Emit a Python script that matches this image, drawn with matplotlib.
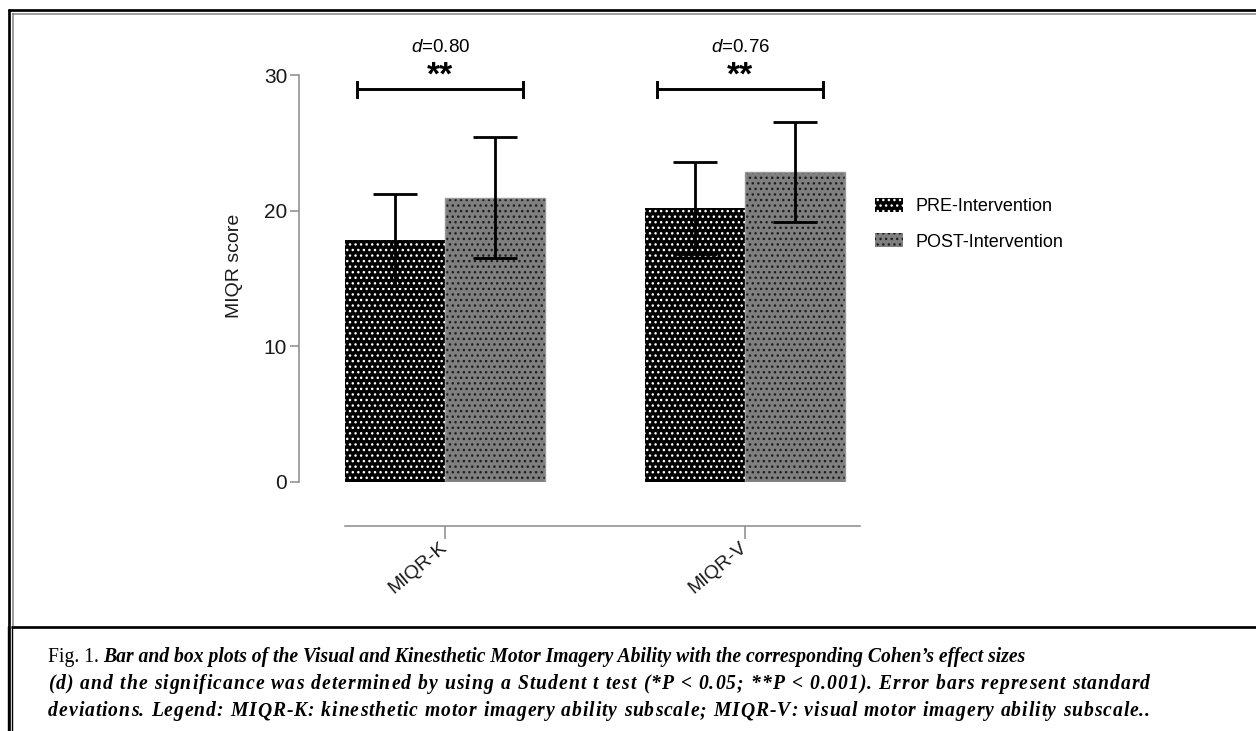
import matplotlib
matplotlib.use("Agg")
import matplotlib.pyplot as plt
from matplotlib.lines import Line2D
from matplotlib.font_manager import FontProperties, findfont
from matplotlib.ft2font import FT2Font
import numpy as np

# ---- data ----
categories = ["MIQR-K", "MIQR-V"]
series_names = ["PRE-Intervention", "POST-Intervention"]
pre_means = [17.8, 20.2]
pre_sd = [3.4, 3.4]
post_means = [20.95, 22.85]
post_sd = [4.45, 3.7]
effect_sizes = ["0.80", "0.76"]
sig_marks = ["**", "**"]
y_ticks = [0, 10, 20, 30]

caption_head = "Fig. 1."
caption_lines = [
    "Bar and box plots of the Visual and Kinesthetic Motor Imagery Ability with the corresponding Cohen\u2019s effect sizes",
    "(d) and the significance was determined by using a Student t test (*P < 0.05; **P < 0.001). Error bars represent standard",
    "deviations. Legend: MIQR-K: kinesthetic motor imagery ability subscale; MIQR-V: visual motor imagery ability subscale..",
]

plt.rcParams["font.family"] = ["Liberation Sans", "DejaVu Sans"]
plt.rcParams["mathtext.fontset"] = "custom"
plt.rcParams["mathtext.rm"] = "Liberation Sans"
plt.rcParams["mathtext.it"] = "Liberation Sans:italic"
plt.rcParams["hatch.linewidth"] = 1.0

W, H = 1256, 731
fig = plt.figure(figsize=(W / 100, H / 100), dpi=100)


def fx(x):
    return x / W


def fy(y):
    return 1 - y / H


# axes: y=0 at px 481.5, y=30 at px 75, left spine at px 299
ax = fig.add_axes([fx(299), fy(481.5), 561 / W, (481.5 - 75) / H])
ax.set_ylim(0, 30)
ax.set_xlim(-0.487, 1.383)

x = np.arange(len(categories))
width = 1 / 3
gray = "#7f7f7f"

ax.bar(x - width / 2, pre_means, width, color="black", edgecolor="white",
       linewidth=0, hatch="...", label=series_names[0], zorder=2)
ax.bar(x + width / 2, post_means, width, color=gray, edgecolor="#1e1e1e",
       linewidth=0, hatch="...", label=series_names[1], zorder=2)
ax.bar(x + width / 2, post_means, width, fill=False, edgecolor="#9a9a9a",
       linewidth=1.0, zorder=2.1)

ax.errorbar(x - width / 2, pre_means, yerr=pre_sd, fmt="none", ecolor="black",
            elinewidth=2.0, capsize=16, capthick=2.0, zorder=3)
ax.errorbar(x + width / 2, post_means, yerr=post_sd, fmt="none", ecolor="black",
            elinewidth=2.0, capsize=16, capthick=2.0, zorder=3)

# significance brackets
for xi, d, s in zip(x, effect_sizes, sig_marks):
    left, right, yb = xi - 0.293, xi + 0.26, 28.93
    ax.plot([left, right], [yb, yb], color="black", lw=2.1, clip_on=False,
            solid_capstyle="butt")
    for xe in (left, right):
        ax.plot([xe, xe], [yb - 0.55, yb + 0.55], color="black", lw=2.1,
                clip_on=False)
    xc = (left + right) / 2
    ax.text(xc, 29.95, s, ha="center", va="center", fontsize=24,
            fontweight="bold", clip_on=False)
    ax.text(xc, 32.0, "$d$=" + d, ha="center", va="center", fontsize=13.5,
            clip_on=False)

# axes styling
axis_gray = "#8a8a8a"
for sp in ("top", "right"):
    ax.spines[sp].set_visible(False)
ax.spines["left"].set_color(axis_gray)
ax.spines["left"].set_linewidth(1.1)
ax.spines["left"].set_bounds(0, 30)
ax.spines["bottom"].set_color(axis_gray)
ax.spines["bottom"].set_linewidth(1.1)
ax.spines["bottom"].set_position(("outward", 31.7))
ax.spines["bottom"].set_bounds(-1 / 3, 1.383)

ax.set_yticks(y_ticks)
ax.set_yticklabels([str(t) for t in y_ticks])
ax.tick_params(axis="y", direction="out", length=6.5, width=1.1,
               color=axis_gray, labelsize=15, labelcolor="#1a1a1a", pad=2)
ax.set_xticks(x)
ax.set_xticklabels(categories, rotation=40, ha="right", va="center",
                   rotation_mode="anchor")
ax.tick_params(axis="x", direction="out", length=9.4, width=1.1,
               color=axis_gray, labelsize=14, labelcolor="#1a1a1a", pad=5)

ax.set_ylabel("MIQR score", fontsize=14, color="#1a1a1a")
ax.yaxis.set_label_coords((243 - 299) / 561, (481.5 - 266) / 406.5)

ax.legend(loc="upper left", bbox_to_anchor=(fx(875), fy(198)),
          bbox_transform=fig.transFigure, frameon=False, fontsize=13,
          handlelength=1.55, handleheight=0.78, handletextpad=0.67,
          labelspacing=1.02, borderpad=0, borderaxespad=0)


# ---- page frame ----
def hline(y, x0, x1, color, lw):
    fig.add_artist(Line2D([fx(x0), fx(x1)], [fy(y), fy(y)], color=color,
                          lw=lw * 0.72, solid_capstyle="butt"))


def vline(xp, y0, y1, color, lw):
    fig.add_artist(Line2D([fx(xp), fx(xp)], [fy(y0), fy(y1)], color=color,
                          lw=lw * 0.72, solid_capstyle="butt"))


hline(10, 8, W, "black", 2.7)
hline(13.8, 12, W, "#808080", 1.5)
vline(9.3, 8.7, H, "black", 2.7)
vline(12.6, 13, 626, "#808080", 1.5)
vline(11.6, 626, H, "black", 1.4)
vline(8.0, 626, H, "black", 1.4)
hline(627, 11, W, "black", 2.7)

# ---- caption ----
fig.canvas.draw()
renderer = fig.canvas.get_renderer()
cap_size = 14.1
cap_kw = dict(fontsize=cap_size, family="Liberation Serif", va="baseline", ha="left")
bi_kw = dict(cap_kw, style="italic", fontweight="bold")

t0 = fig.text(fx(48), fy(662), caption_head, **cap_kw)
bb = t0.get_window_extent(renderer)
fig.text((bb.x1 + 4) / W, fy(662), caption_lines[0], **bi_kw)

# lines 2 and 3 are justified in the source: spread the slack over the letters
bi_font = FT2Font(findfont(FontProperties(family="Liberation Serif",
                                          style="italic", weight="bold")))
bi_font.set_size(cap_size, 100)


def advance(ch):
    return bi_font.load_char(ord(ch)).linearHoriAdvance / 65536


right_edge = 1150
for i, line in enumerate(caption_lines[1:]):
    ybase = fy(689 + 27 * i)
    adv = [advance(c) for c in line]
    extra = (right_edge - 48 - sum(adv)) / (len(line) - 1)
    xp = 48
    for c, a in zip(line, adv):
        if c != " ":
            fig.text(xp / W, ybase, c, **bi_kw)
        xp += a + extra

fig.savefig("out.png", dpi=100)
